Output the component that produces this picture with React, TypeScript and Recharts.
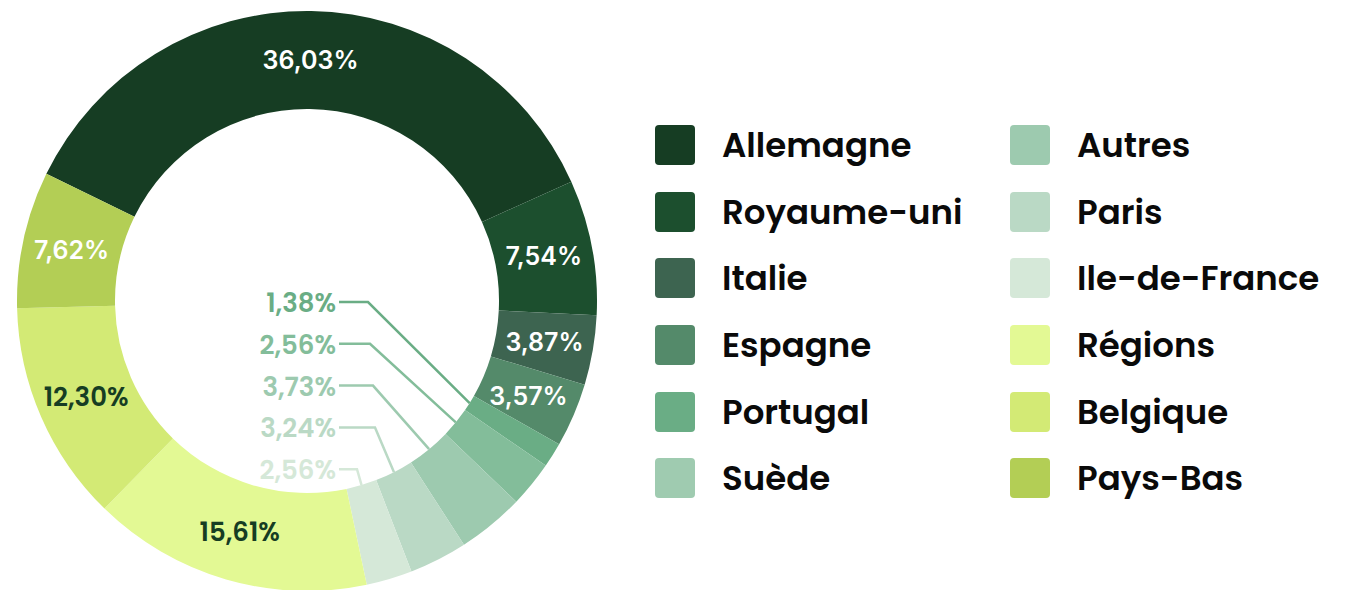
import { PieChart, Pie, Cell, Legend } from "recharts";

const names = [
  "Allemagne",
  "Royaume-uni",
  "Italie",
  "Espagne",
  "Portugal",
  "Suède",
  "Autres",
  "Paris",
  "Ile-de-France",
  "Régions",
  "Belgique",
  "Pays-Bas",
];
const values = [36.03, 7.54, 3.87, 3.57, 1.38, 2.56, 3.73, 3.24, 2.56, 15.61, 12.3, 7.62];
const colors = [
  "#163d23",
  "#1c4f2e",
  "#3d6450",
  "#548a6a",
  "#6aad85",
  "#83bd9a",
  "#9dcaaf",
  "#bad9c5",
  "#d5e8d8",
  "#e3f994",
  "#d3ea75",
  "#b3ce55",
];
const legendColors = [
  "#163d23",
  "#1c4f2e",
  "#3d6450",
  "#548a6a",
  "#6aad85",
  "#9fcbb0",
  "#9dcaaf",
  "#bad9c5",
  "#d5e8d8",
  "#e3f994",
  "#d3ea75",
  "#b3ce55",
];
// labels drawn in the hole with leader lines
const outsideIdx = [4, 5, 6, 7, 8];
const darkText = [9, 10];

const data = names.map((name, i) => ({ name, value: values[i] }));

const POPPINS = "Poppins, Inter, 'Noto Sans', sans-serif";
const INTER = "Inter, 'Noto Sans', sans-serif";
const RAD = Math.PI / 180;
const fmt = (v: number) => v.toFixed(2).replace(".", ",") + "%";

const elbowOffsets = [61, 63, 66, 68, 50];

const renderLabel = (props: any) => {
  const { cx, cy, midAngle, innerRadius, outerRadius, index, value } = props;
  const j = outsideIdx.indexOf(index);
  if (j >= 0) {
    const px = cx + innerRadius * Math.cos(-midAngle * RAD);
    const py = cy + innerRadius * Math.sin(-midAngle * RAD);
    const ly = cy + 1 + j * 41.8;
    const ex = cx + elbowOffsets[j];
    return (
      <g key={`l-${index}`}>
        <polyline
          points={`${cx + 32},${ly} ${ex},${ly} ${px},${py}`}
          fill="none"
          stroke={colors[index]}
          strokeWidth={2.5}
        />
        <text
          x={cx + 29}
          y={ly + 1}
          textAnchor="end"
          dominantBaseline="central"
          fill={colors[index]}
          fontFamily={POPPINS}
          fontWeight={600}
          fontSize={26}
        >
          {fmt(value)}
        </text>
      </g>
    );
  }
  const r = (innerRadius + outerRadius) / 2;
  const x = cx + r * Math.cos(-midAngle * RAD);
  const y = cy + r * Math.sin(-midAngle * RAD);
  const dark = darkText.includes(index);
  return (
    <text
      key={`l-${index}`}
      x={x}
      y={y}
      textAnchor="middle"
      dominantBaseline="central"
      fill={dark ? "#163d23" : "#ffffff"}
      fontFamily={dark ? POPPINS : INTER}
      fontWeight={600}
      fontSize={dark ? 26 : 25}
    >
      {fmt(value)}
    </text>
  );
};

const LegendBox = () => {
  const cols = [names.slice(0, 6), names.slice(6)];
  return (
    <div style={{ display: "flex" }}>
      {cols.map((col, c) => (
        <div key={c} style={{ width: c === 0 ? 355 : 320 }}>
          {col.map((n, k) => {
            const i = c * 6 + k;
            return (
              <div key={n} style={{ display: "flex", alignItems: "center", height: 66.6 }}>
                <div
                  style={{
                    width: 40,
                    height: 40,
                    borderRadius: 4,
                    background: legendColors[i],
                    marginRight: 27,
                    flexShrink: 0,
                  }}
                />
                <span
                  style={{
                    fontFamily: POPPINS,
                    fontWeight: 600,
                    fontSize: 34,
                    lineHeight: "40px",
                    color: "#0a0a0a",
                    whiteSpace: "nowrap",
                  }}
                >
                  {n}
                </span>
              </div>
            );
          })}
        </div>
      ))}
    </div>
  );
};

export default function App() {
  return (
    <div style={{ position: "absolute", left: 0, top: 0, width: 1350, height: 590, background: "#fff" }}>
      <PieChart width={1350} height={590} margin={{ top: 0, right: 0, bottom: 0, left: 0 }}>
        <Pie
          data={data}
          dataKey="value"
          nameKey="name"
          cx={307}
          cy={301}
          innerRadius={192}
          outerRadius={290}
          startAngle={154}
          endAngle={-206}
          stroke="none"
          label={renderLabel}
          labelLine={false}
          isAnimationActive={false}
        >
          {data.map((d, i) => (
            <Cell key={d.name} fill={colors[i]} />
          ))}
        </Pie>
        <Legend
          content={<LegendBox />}
          layout="vertical"
          wrapperStyle={{ position: "absolute", left: 655, top: 112, width: 700 }}
        />
      </PieChart>
    </div>
  );
}
